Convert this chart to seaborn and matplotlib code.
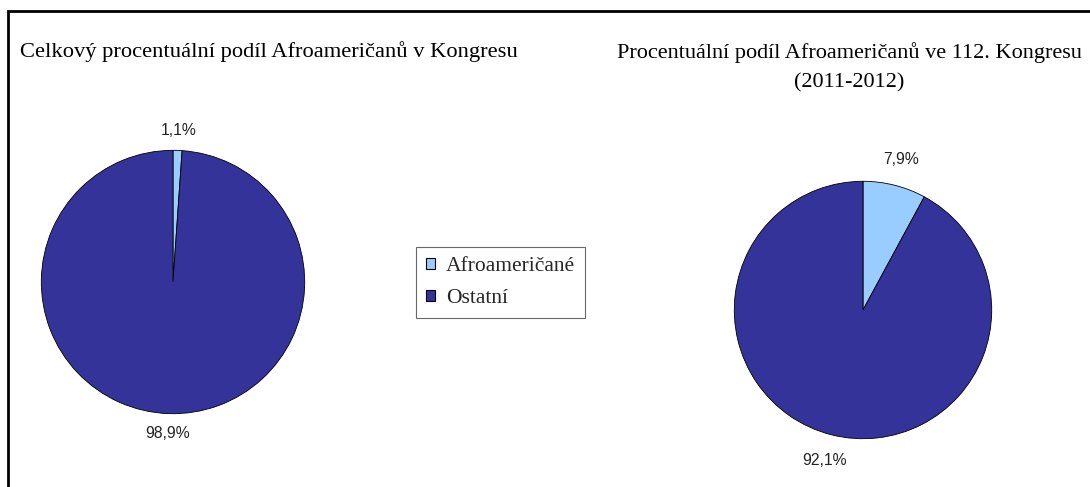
import matplotlib
matplotlib.use("Agg")
import matplotlib.pyplot as plt
import seaborn as sns
from matplotlib.patches import Patch, Rectangle

# ---- data ----
categories = ["Afroameričané", "Ostatní"]
total_share = [1.1, 98.9]
congress112_share = [7.9, 92.1]
title_left = "Celkový procentuální podíl Afroameričanů v Kongresu"
title_right = "Procentuální podíl Afroameričanů ve 112. Kongresu\n(2011-2012)"

sns.set_theme(style="white")
plt.rcParams["font.family"] = ["Liberation Serif", "DejaVu Serif"]

colors = ["#99CCFF", "#333399"]
W, H = 1090, 487
fig = plt.figure(figsize=(W / 100, H / 100), dpi=100)
fig.patch.set_facecolor("white")

def fmt(p):
    return f"{p:.1f}%".replace(".", ",")

def draw(ax, vals, pctd):
    wedges, texts, autotexts = ax.pie(
        vals, colors=colors, startangle=90, counterclock=False,
        autopct=fmt, pctdistance=pctd, radius=1,
        wedgeprops=dict(edgecolor="black", linewidth=0.6),
        textprops=dict(family=["Liberation Sans", "DejaVu Sans"], fontsize=11.3, color="#222222"),
    )
    ax.set_xlim(-1.01, 1.01)
    ax.set_ylim(-1.01, 1.01)
    ax.set_aspect("equal")
    ax.axis("off")
    return wedges

ax1 = fig.add_axes([40 / W, 72 / H, 266 / W, 266 / H])
draw(ax1, total_share, 1.15)
ax2 = fig.add_axes([733 / W, 47 / H, 260 / W, 260 / H])
draw(ax2, congress112_share, 1.21)

fig.text(20 / W, 1 - 52 / H, title_left, ha="left", va="center", fontsize=16.2, color="black")
fig.text(849 / W, 1 - 67 / H, title_right, ha="center", va="center", fontsize=16,
         color="black", linespacing=1.7)

handles = [Patch(facecolor=c, edgecolor="black", linewidth=0.8) for c in colors]
leg = fig.legend(handles, categories, loc="center", bbox_to_anchor=(500.5 / W, 1 - 282.5 / H),
                 frameon=True, fancybox=False, fontsize=15.5, handlelength=0.45, handleheight=0.45,
                 handletextpad=0.5, borderpad=0.45, labelspacing=0.6, borderaxespad=0)
leg.get_frame().set_edgecolor("#444444")
leg.get_frame().set_linewidth(0.8)

# outer frame (left and top edges visible; extends beyond image)
fig.patches.append(Rectangle((7.5 / W, -0.1), 1.2, (1 - 10.5 / H) + 0.1,
                             transform=fig.transFigure, fill=False,
                             edgecolor="black", linewidth=2, clip_on=False))

fig.savefig("out.png", dpi=100, facecolor="white")
